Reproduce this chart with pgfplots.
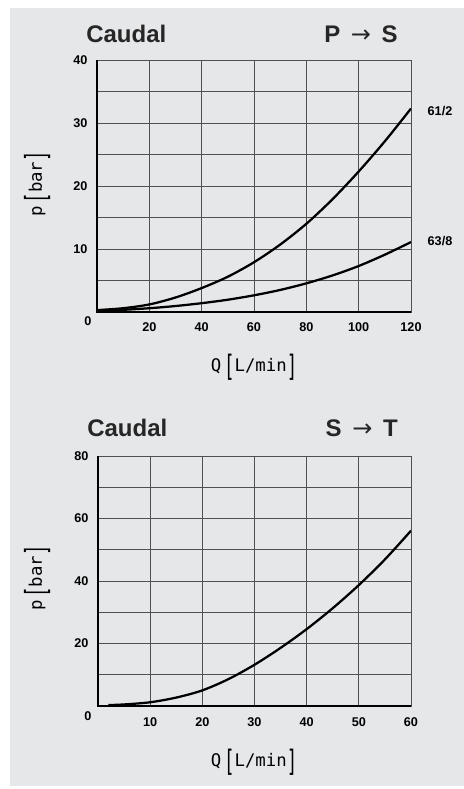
\documentclass[border=0pt]{standalone}
\usepackage{fontspec}
\usepackage{graphicx}
\usepackage{pgfplots}
\pgfplotsset{compat=1.18}
\setmainfont{Liberation Sans}
\newfontfamily\monofont{DejaVu Sans Mono}
\newfontfamily\arrowfont{DejaVu Sans}
\definecolor{bg}{RGB}{230,231,233}
\definecolor{gridc}{RGB}{80,80,80}
\newcommand{\brk}[1]{\raisebox{-3.2pt}{\scalebox{1}[1.7]{#1}}}
\newcommand{\tfont}{\fontsize{9.5}{10}\selectfont\bfseries}
\pgfplotsset{
  myaxis/.style={
    scale only axis,
    clip mode=individual,
    axis background/.style={fill=bg},
    grid=both,
    major grid style={gridc, line width=0.5pt},
    minor grid style={gridc, line width=0.5pt},
    axis line style={gridc, line width=0.6pt},
    major tick length=0pt, minor tick length=0pt,
    tick style={draw=none},
    /pgf/number format/assume math mode=true,
    ticklabel style={font=\tfont},
    yticklabel style={anchor=east, inner sep=0pt, xshift=-7pt},
    xticklabel style={anchor=center, inner sep=0pt},
  }
}
\begin{document}
\begin{tikzpicture}
\fill[white] (0pt,0pt) rectangle (348pt,-591.75pt);
\fill[bg] (7.5pt,-6pt) rectangle (348pt,-589.5pt);
% top axis
\begin{axis}[myaxis,
  at={(72.75pt,-234pt)}, anchor=south west,
  width=235.5pt, height=189pt,
  xmin=0, xmax=120, ymin=0, ymax=40,
  xtick={20,40,60,80,100,120},
  ytick={10,20,30,40}, minor ytick={5,15,25,35},
  xticklabel style={yshift=-11.25pt},
]
\addplot[black, line width=1.7pt, smooth] coordinates {
(0,0.3) (10,0.6) (20,1.2) (30,2.3) (40,3.8) (50,5.6) (60,7.9) (70,10.7) (80,14.0) (90,17.9) (100,22.3) (110,27.1) (120,32.3)};
\addplot[black, line width=1.7pt, smooth] coordinates {
(0,0.2) (10,0.35) (20,0.6) (30,0.95) (40,1.4) (50,1.95) (60,2.65) (70,3.5) (80,4.55) (90,5.8) (100,7.3) (110,9.1) (120,11.1)};
\draw[black, line width=1.6pt] (rel axis cs:0,1) -- (rel axis cs:0,0) -- (rel axis cs:1,0);
\node[font=\tfont, inner sep=0pt] at ([xshift=-6.75pt,yshift=-6.5pt]axis cs:0,0) {0};
\end{axis}
% bottom axis
\begin{axis}[myaxis,
  at={(73.5pt,-529.5pt)}, anchor=south west,
  width=234.75pt, height=187.5pt,
  xmin=0, xmax=60, ymin=0, ymax=80,
  xtick={10,20,30,40,50,60},
  ytick={20,40,60,80}, minor ytick={10,30,50,70},
  xticklabel style={yshift=-11.8pt},
]
\addplot[black, line width=1.7pt, smooth] coordinates {
(2,0.3) (5,0.5) (10,1.2) (15,2.7) (20,5.0) (25,8.6) (30,13.2) (35,18.6) (40,24.6) (45,31.3) (50,38.7) (55,46.9) (60,56.1)};
\draw[black, line width=1.6pt] (rel axis cs:0,1) -- (rel axis cs:0,0) -- (rel axis cs:1,0);
\node[font=\tfont, inner sep=0pt] at ([xshift=-7.5pt,yshift=-7.5pt]axis cs:0,0) {0};
\end{axis}
% titles
\node[anchor=base west, inner sep=0pt, font=\fontsize{18}{20}\selectfont\bfseries, text=black!85] at (64.5pt,-32pt) {Caudal};
\node[anchor=base east, inner sep=0pt, font=\fontsize{18}{20}\selectfont\bfseries, text=black!85] at (298.5pt,-32pt) {P\hspace{8pt}{\arrowfont\mdseries →}\hspace{8pt}S};
\node[anchor=base west, inner sep=0pt, font=\fontsize{18}{20}\selectfont\bfseries, text=black!85] at (65.25pt,-327pt) {Caudal};
\node[anchor=base east, inner sep=0pt, font=\fontsize{18}{20}\selectfont\bfseries, text=black!85] at (298.5pt,-327pt) {S\hspace{8pt}{\arrowfont\mdseries →}\hspace{8pt}T};
% curve labels
\node[font=\tfont, inner sep=0pt] at (330pt,-83.25pt) {61/2};
\node[font=\tfont, inner sep=0pt] at (330pt,-180.75pt) {63/8};
% axis labels
\node[font=\monofont\fontsize{13}{14}\selectfont, inner sep=0pt] at (190.5pt,-275.25pt) {Q\,\brk{[}L/min\brk{]}};
\node[font=\monofont\fontsize{13}{14}\selectfont, inner sep=0pt] at (190.5pt,-571.5pt) {Q\,\brk{[}L/min\brk{]}};
\node[font=\monofont\fontsize{13}{14}\selectfont, inner sep=0pt, rotate=90] at (27.75pt,-138pt) {p\,\brk{[}bar\brk{]}};
\node[font=\monofont\fontsize{13}{14}\selectfont, inner sep=0pt, rotate=90] at (27.75pt,-433.5pt) {p\,\brk{[}bar\brk{]}};
\end{tikzpicture}
\end{document}
